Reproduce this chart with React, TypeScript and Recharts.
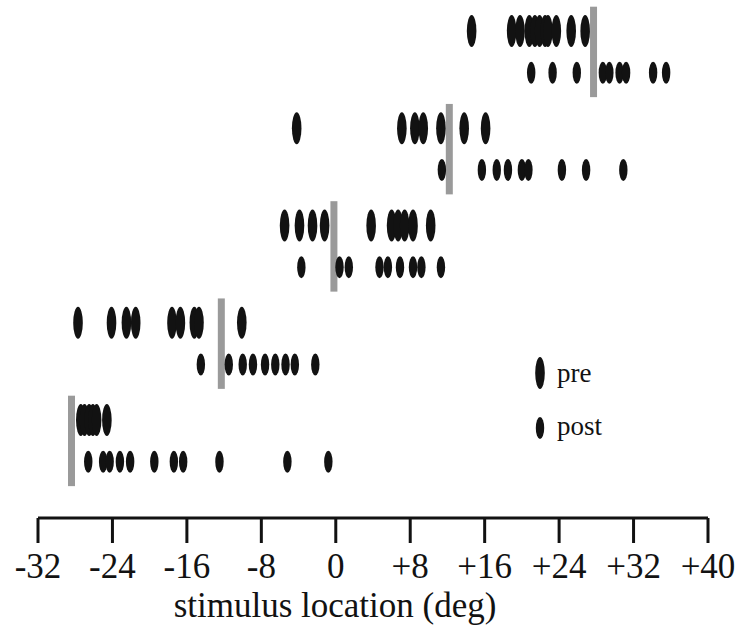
import React from "react";
import { ScatterChart, Scatter, XAxis, YAxis, ReferenceLine, Label } from "recharts";

// stimulus location (deg) of each spike, per condition; rows top -> bottom
const pre0 = [14.6, 18.9, 19.8, 20.8, 21.4, 21.9, 22.5, 22.8, 23.7, 25.3, 26.8];
const post0 = [21.0, 23.3, 25.9, 28.7, 29.4, 30.5, 31.2, 34.1, 35.5];
const pre1 = [-4.2, 7.1, 8.5, 9.4, 11.3, 13.8, 16.1];
const post1 = [11.4, 15.7, 17.3, 18.5, 20.0, 20.7, 24.3, 26.9, 30.9];
const pre2 = [-5.5, -3.9, -2.5, -1.2, 3.8, 6.0, 6.7, 7.4, 8.3, 10.2];
const post2 = [-3.7, 0.4, 1.4, 4.7, 5.6, 6.9, 8.3, 9.2, 11.3];
const pre3 = [-27.7, -24.1, -22.5, -21.5, -17.6, -16.7, -15.2, -14.7, -10.1];
const post3 = [-14.5, -11.5, -10.0, -8.9, -7.6, -6.5, -5.4, -4.4, -2.2];
const pre4 = [-27.4, -27.0, -26.5, -26.1, -25.7, -24.6];
const post4 = [-26.6, -25.0, -24.3, -23.2, -22.1, -19.5, -17.4, -16.4, -12.5, -5.2, -0.8];

// gray bar (stimulus reference) per row group
const markers = [27.7, 12.2, -0.2, -12.3, -28.4];

const xTicks = [-32, -24, -16, -8, 0, 8, 16, 24, 32, 40];
const xLabel = "stimulus location (deg)";
const legendLabels = ["pre", "post"];

const preRows = [pre0, pre1, pre2, pre3, pre4];
const postRows = [post0, post1, post2, post3, post4];

const POST_OFFSET = 0.43;
const preData = preRows.flatMap((row, k) => row.map((x) => ({ x, y: k })));
const postData = postRows.flatMap((row, k) => row.map((x) => ({ x, y: k + POST_OFFSET })));

const FONT = "Liberation Serif";
const INK = "#121212";

const fmt = (v: number) => (v > 0 ? "+" + v : String(v));

const PreShape = (p: any) => <ellipse cx={p.cx} cy={p.cy} rx={4.8} ry={16} fill={INK} />;
const PostShape = (p: any) => <ellipse cx={p.cx} cy={p.cy} rx={4.2} ry={11} fill={INK} />;

const Tick = (p: any) => (
  <text x={p.x} y={p.y} dy="0.71em" textAnchor="middle" style={{ fontFamily: FONT, fontSize: 35 }} fill={INK}>
    {fmt(p.payload.value)}
  </text>
);

const AxisTitle = (p: any) => {
  const vb = p.viewBox || { x: 38, y: 518, width: 670 };
  return (
    <text x={vb.x + vb.width / 2 - 38} y={vb.y + 99} textAnchor="middle" style={{ fontFamily: FONT, fontSize: 35 }} fill={INK}>
      {xLabel}
    </text>
  );
};

export default function App() {
  return (
    <div style={{ position: "absolute", left: 0, top: 0, width: 736, height: 637, background: "#fff" }}>
      <ScatterChart width={736} height={637} margin={{ top: 8, right: 28, bottom: 0, left: 38 }}>
        <XAxis
          type="number"
          dataKey="x"
          domain={[-32, 40]}
          ticks={xTicks}
          interval={0}
          allowDataOverflow
          height={119}
          tickSize={25}
          tickMargin={10}
          axisLine={{ stroke: INK, strokeWidth: 3 }}
          tickLine={{ stroke: INK, strokeWidth: 3 }}
          tick={<Tick />}
        >
          <Label content={<AxisTitle />} />
        </XAxis>
        <YAxis type="number" dataKey="y" domain={[-0.2365, 5.0077]} reversed hide allowDataOverflow />
        {markers.map((m, k) => (
          <ReferenceLine
            key={k}
            ifOverflow="visible"
            segment={[
              { x: m, y: k - 0.25 },
              { x: m, y: k + 0.68 },
            ]}
            stroke="#9a9a9a"
            strokeWidth={7}
          />
        ))}
        <Scatter data={preData} shape={<PreShape />} isAnimationActive={false} />
        <Scatter data={postData} shape={<PostShape />} isAnimationActive={false} />
      </ScatterChart>
      <svg
        width={736}
        height={637}
        style={{ position: "absolute", left: 0, top: 0, pointerEvents: "none" }}
      >
        <ellipse cx={540} cy={373} rx={4.8} ry={16} fill={INK} />
        <text x={557} y={382} style={{ fontFamily: FONT, fontSize: 27 }} fill={INK}>
          {legendLabels[0]}
        </text>
        <ellipse cx={540} cy={428} rx={4.2} ry={11} fill={INK} />
        <text x={557} y={435} style={{ fontFamily: FONT, fontSize: 27 }} fill={INK}>
          {legendLabels[1]}
        </text>
      </svg>
    </div>
  );
}
